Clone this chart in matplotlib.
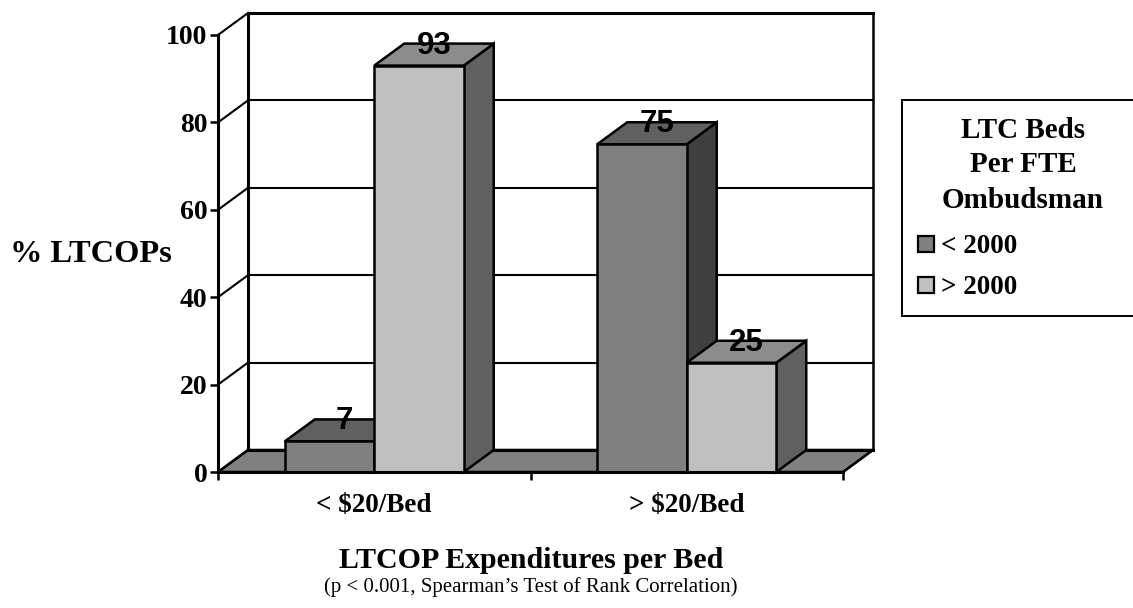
import matplotlib
matplotlib.use("Agg")
import matplotlib.pyplot as plt
from matplotlib.patches import Polygon, Rectangle

categories = ["< $20/Bed", "> $20/Bed"]
series_names = ["< 2000", "> 2000"]
below_2000 = [7, 75]
above_2000 = [93, 25]
y_ticks = [0, 20, 40, 60, 80, 100]
legend_title = ["LTC Beds", "Per FTE", "Ombudsman"]

W, H = 1133, 608
SERIF = "Liberation Serif"
SANS = "Liberation Sans"
LW = 1.8

fig = plt.figure(figsize=(W / 100, H / 100), dpi=100)
L, R, T, B = 218, 843, 35, 472
ax = fig.add_axes([L / W, 1 - B / H, (R - L) / W, (B - T) / H])
ax.set_xlim(0, 2)
ax.set_ylim(0, 100)
ax.patch.set_visible(False)

# depth offset in data units (30 px right, 22 px up)
dx = 30 / (R - L) * 2
dy = 22 / (B - T) * 100
bw = 89.5 / (R - L) * 2
K = "black"

# floor
ax.add_patch(Polygon([(0, 0), (dx, dy), (2 + dx, dy), (2, 0)], closed=True, fc="#808080",
                     ec=K, lw=LW, clip_on=False, zorder=1, joinstyle="miter"))
# walls and gridlines
for t in y_ticks:
    ax.plot([0, dx], [t, t + dy], color=K, lw=1.5, clip_on=False, zorder=2)
    ax.plot([dx, 2 + dx], [t + dy, t + dy], color=K, lw=1.5 if t not in (0, 100) else 2.2,
            clip_on=False, zorder=2)
ax.plot([dx, dx], [dy, 100 + dy], color=K, lw=2.2, clip_on=False, zorder=2)
ax.plot([2 + dx, 2 + dx], [dy, 100 + dy], color=K, lw=1.8, clip_on=False, zorder=2)
ax.plot([2, 2 + dx], [0, dy], color=K, lw=1.5, clip_on=False, zorder=2)


def bar3d(x0, v, front, top, side, z):
    x1 = x0 + bw
    kw = dict(closed=True, ec=K, lw=LW, clip_on=False, zorder=z, joinstyle="miter")
    ax.add_patch(Polygon([(x1, 0), (x1 + dx, dy), (x1 + dx, v + dy), (x1, v)], fc=side, **kw))
    ax.add_patch(Polygon([(x0, v), (x0 + dx, v + dy), (x1 + dx, v + dy), (x1, v)], fc=top, **kw))
    ax.add_patch(Polygon([(x0, 0), (x1, 0), (x1, v), (x0, v)], fc=front, **kw))
    ax.annotate(f"{v}", (x0 + bw / 2 + dx / 2, v + dy), xytext=(0, -1.5), textcoords="offset points",
                ha="center", va="center", family=SANS, weight="bold", fontsize=22.5, color=K,
                zorder=z + 5, annotation_clip=False)


for i, (a, b) in enumerate(zip(below_2000, above_2000)):
    bar3d(i + 0.5 - bw, a, "#808080", "#606060", "#404040", 5 + i * 10)
    bar3d(i + 0.5, b, "#c0c0c0", "#8c8c8c", "#606060", 6 + i * 10)

# axes
for s in ("top", "right"):
    ax.spines[s].set_visible(False)
for s in ("left", "bottom"):
    ax.spines[s].set_linewidth(2.2)
    ax.spines[s].set_zorder(30)
ax.set_yticks(y_ticks)
ax.set_xticks([0, 1, 2])
ax.set_xticklabels([])
ax.tick_params(axis="both", direction="out", length=6, width=1.8)
ax.tick_params(axis="y", pad=1.5)
for lab in ax.get_yticklabels():
    lab.set_family(SERIF)
    lab.set_weight("bold")
    lab.set_fontsize(20)

for i, c in enumerate(categories):
    ax.annotate(c, (i + 0.5, 0), xytext=(0, -24), textcoords="offset points", ha="center", va="center",
                family=SERIF, weight="bold", fontsize=19.5, annotation_clip=False)


def ftext(px, py, s, **kw):
    fig.text(px / W, 1 - py / H, s, family=SERIF, **kw)


ftext(91, 254, "% LTCOPs", ha="center", va="center", weight="bold", fontsize=23.3)
ftext(531, 561, "LTCOP Expenditures per Bed", ha="center", va="center", weight="bold", fontsize=21.5)
ftext(531, 587, "(p < 0.001, Spearman\u2019s Test of Rank Correlation)", ha="center", va="center", fontsize=15)

# legend
fig.add_artist(Rectangle((902 / W, 1 - 316 / H), (W + 20 - 902) / W, (316 - 100) / H, transform=fig.transFigure,
                         fc="white", ec=K, lw=1.4))
for py, s in zip((131, 165, 200), legend_title):
    ftext(1023, py, s, ha="center", va="center", weight="bold", fontsize=21)
for py, name, col in zip((244, 285), series_names, ("#808080", "#c0c0c0")):
    fig.add_artist(Rectangle((918 / W, 1 - (py + 8) / H), 16 / W, 16 / H, transform=fig.transFigure,
                             fc=col, ec=K, lw=1.6))
    ftext(941, py + 2.5, name, ha="left", va="center", weight="bold", fontsize=19.5)

fig.savefig("out.png", dpi=100)
